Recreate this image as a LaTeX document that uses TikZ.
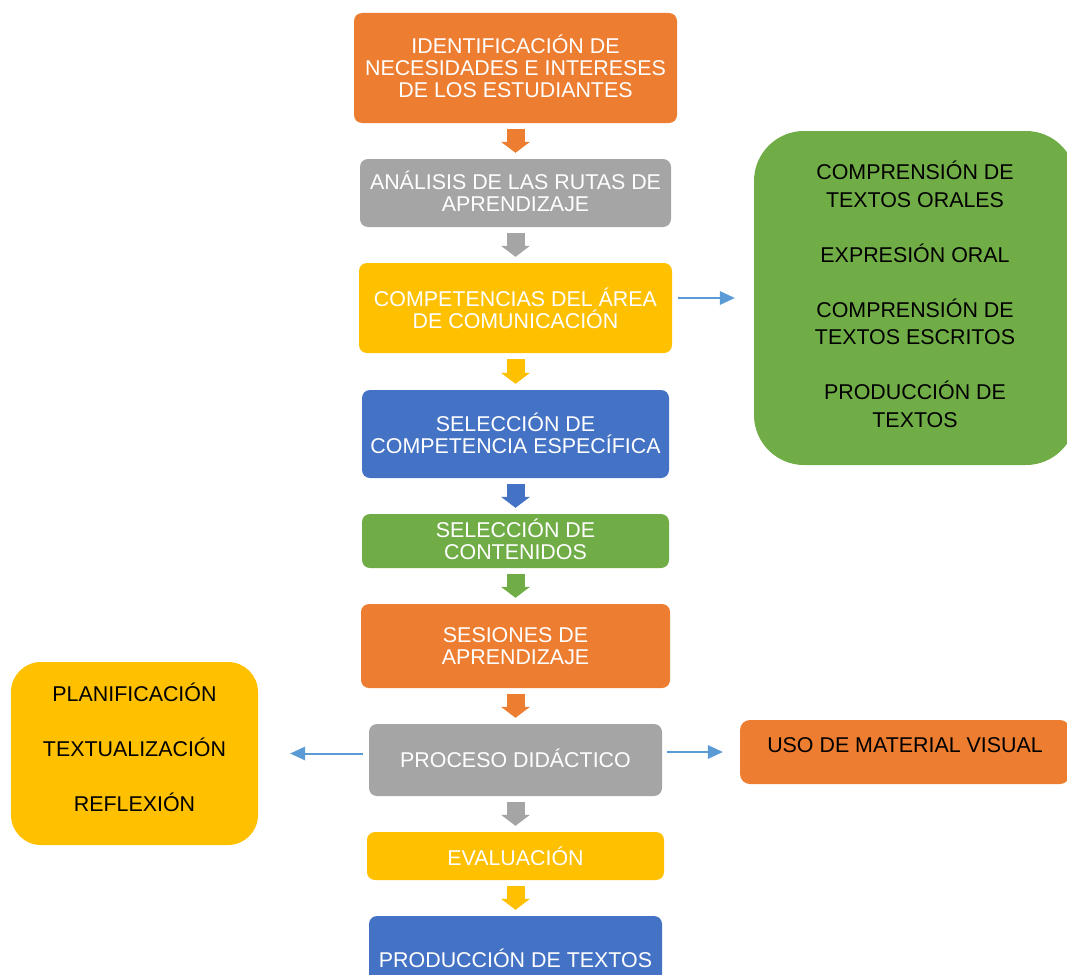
\documentclass[tikz,border=0pt]{standalone}
\usepackage{fontspec}
\setmainfont{Liberation Sans}
\usetikzlibrary{arrows.meta}

\definecolor{naranja}{HTML}{ED7D31}
\definecolor{gris}{HTML}{A5A5A5}
\definecolor{amarillo}{HTML}{FFC000}
\definecolor{azul}{HTML}{4472C4}
\definecolor{verde}{HTML}{70AD47}
\definecolor{celeste}{HTML}{5B9BD5}

% espacio invisible bajo la ultima linea (sube el texto)
\newcommand{\bajo}[1]{\rule[-#1]{0pt}{#1}}

\begin{document}
\begin{tikzpicture}[x=1pt,y=-1pt,
   paso/.style={rounded corners=8pt, inner sep=0pt, text=white, align=center,
                font=\fontsize{21.4}{22}\selectfont},
   lado/.style={inner sep=0pt, text=black, align=center,
                font=\fontsize{21.4}{27.5}\selectfont},
   flecha/.style={line width=18pt, -{Triangle[length=11pt,width=29pt,line width=0pt]},
                  shorten <=6pt, shorten >=6pt},
   enlace/.style={draw=celeste, line width=2pt, -{Triangle[length=15pt,width=14pt,line width=0pt]}}]
   \clip (0,0) rectangle (1067,974);

   % columna central
   \node[paso, fill=naranja,  minimum width=323, minimum height=110] (n1) at (515.5, 68)
        {IDENTIFICACIÓN DE\\NECESIDADES E INTERESES\\DE LOS ESTUDIANTES\bajo{4pt}};
   \node[paso, fill=gris,     minimum width=311, minimum height=68]  (n2) at (515.5,193)
        {ANÁLISIS DE LAS RUTAS DE\\APRENDIZAJE\bajo{4pt}};
   \node[paso, fill=amarillo, minimum width=313, minimum height=90]  (n3) at (515.5,308)
        {COMPETENCIAS DEL ÁREA\\DE COMUNICACIÓN};
   \node[paso, fill=azul,     minimum width=307, minimum height=88]  (n4) at (515.5,434)
        {SELECCIÓN DE\\COMPETENCIA ESPECÍFICA\bajo{2pt}};
   \node[paso, fill=verde,    minimum width=307, minimum height=54]  (n5) at (515.5,541)
        {SELECCIÓN DE\\CONTENIDOS\bajo{4pt}};
   \node[paso, fill=naranja,  minimum width=309, minimum height=84]  (n6) at (515.5,646)
        {SESIONES DE\\APRENDIZAJE};
   \node[paso, fill=gris,     minimum width=293, minimum height=72]  (n7) at (515.5,760)
        {PROCESO DIDÁCTICO\bajo{4pt}};
   \node[paso, fill=amarillo, minimum width=297, minimum height=48]  (n8) at (515.5,856)
        {EVALUACIÓN};
   \node[paso, fill=azul,     minimum width=293, minimum height=84]  (n9) at (515.5,958)
        {PRODUCCIÓN DE TEXTOS};

   % cajas laterales
   \node[lado, fill=verde, rounded corners=50pt, minimum width=322, minimum height=334] (compet) at (915,298)
        {COMPRENSIÓN DE\\TEXTOS ORALES\\[27.5pt]EXPRESIÓN ORAL\\[27.5pt]COMPRENSIÓN DE\\TEXTOS ESCRITOS\\[27.5pt]PRODUCCIÓN DE\\TEXTOS\bajo{8pt}};
   \node[lado, fill=amarillo, rounded corners=30pt, minimum width=247, minimum height=183] (etapas) at (134.5,753.5)
        {PLANIFICACIÓN\\[27.5pt]TEXTUALIZACIÓN\\[27.5pt]REFLEXIÓN\bajo{13pt}};
   \node[lado, fill=naranja, rounded corners=10pt, minimum width=330, minimum height=64,
         text height=15pt, text depth=15pt] (material) at (905,752)
        {USO DE MATERIAL VISUAL};

   % flechas
   \draw[flecha, naranja]  (n1) -- (n2);
   \draw[flecha, gris]     (n2) -- (n3);
   \draw[flecha, amarillo] (n3) -- (n4);
   \draw[flecha, azul]     (n4) -- (n5);
   \draw[flecha, verde]    (n5) -- (n6);
   \draw[flecha, naranja]  (n6) -- (n7);
   \draw[flecha, gris]     (n7) -- (n8);
   \draw[flecha, amarillo] (n8) -- (n9);

   \draw[enlace, shorten <=6pt, shorten >=19pt] (n3.east |- compet.west) -- (compet.west);
   \draw[enlace, shorten <=6pt, shorten >=32pt] (n7.west |- etapas.east) -- (etapas.east);
   \draw[enlace, shorten <=5pt, shorten >=17pt] (n7.east |- material.west) -- (material.west);
\end{tikzpicture}
\end{document}
